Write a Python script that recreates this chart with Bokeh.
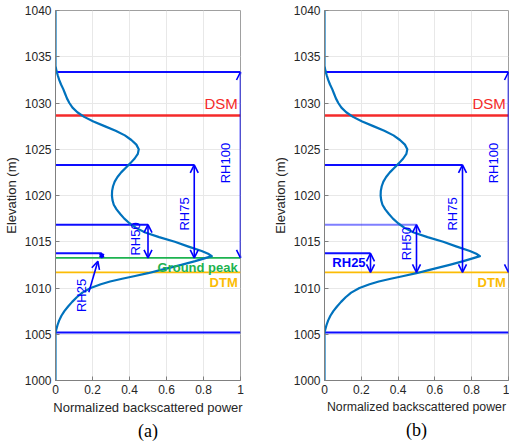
import math
from bokeh.plotting import figure
from bokeh.layouts import row
from bokeh.models import Arrow, OpenHead, Title, FixedTicker, Label
from bokeh.embed import file_html
from bokeh.resources import INLINE

# ---- data ----
elevation = [1040, 1036, 1034.0, 1033.5, 1033.0, 1032.5, 1032.0, 1031.5, 1031.0, 1030.5,
             1030.0, 1029.5, 1029.0, 1028.5, 1028.0, 1027.5, 1027.0, 1026.5, 1026.0, 1025.5,
             1025.0, 1024.5, 1024.0, 1023.5, 1023.0, 1022.5, 1022.0, 1021.5, 1021.0, 1020.5,
             1020.0, 1019.5, 1019.0, 1018.5, 1018.0, 1017.5, 1017.0, 1016.5, 1016.0, 1015.5,
             1015.0, 1014.5, 1014.0, 1013.7, 1013.45, 1013.2, 1012.9, 1012.5, 1012.2, 1011.9,
             1011.6, 1011.3, 1011.0, 1010.7, 1010.4, 1010.0, 1009.5, 1009.0, 1008.5, 1008.0,
             1007.5, 1007.0, 1006.5, 1006.0, 1005.5, 1005.2, 1000]
power = [0, 0, 0.0, 0.005, 0.012, 0.02, 0.03, 0.042, 0.052, 0.062,
         0.075, 0.092, 0.118, 0.155, 0.205, 0.265, 0.325, 0.375, 0.41, 0.437,
         0.45, 0.445, 0.428, 0.405, 0.38, 0.355, 0.335, 0.32, 0.311, 0.306,
         0.305, 0.308, 0.315, 0.33, 0.35, 0.372, 0.40, 0.435, 0.485, 0.56,
         0.645, 0.715, 0.79, 0.825, 0.845, 0.805, 0.755, 0.68, 0.62, 0.56,
         0.50, 0.43, 0.36, 0.295, 0.245, 0.19, 0.145, 0.115, 0.09, 0.068,
         0.048, 0.032, 0.02, 0.011, 0.004, 0.0, 0]

rh_names = ["RH25", "RH50", "RH75", "RH100"]
rh_fraction = [0.25, 0.50, 0.75, 1.00]
rh_level = [1013.75, 1016.85, 1023.3, 1033.35]
signal_start = 1005.2
dsm = 1028.65
ground_peak = 1013.25
dtm = 1011.68

x_ticks = [0, 0.2, 0.4, 0.6, 0.8, 1]
x_tick_labels = ["0", "0.2", "0.4", "0.6", "0.8", "1"]
y_ticks = [1000, 1005, 1010, 1015, 1020, 1025, 1030, 1035, 1040]
y_tick_labels = [str(v) for v in y_ticks]

BLUE = "#0000ff"
CURVE = "#0072BD"
RED = "#f52a2a"
GREEN = "#1db350"
ORANGE = "#fbbc05"
FONT = "Liberation Sans"


def make_panel(caption, ref, width, left, right, xlabel_size):
    p = figure(width=width, height=444, x_range=(0, 1), y_range=(1000, 1040),
               output_backend="svg", toolbar_location=None,
               min_border_left=left, min_border_right=right,
               min_border_top=10, min_border_bottom=64)
    p.xaxis.ticker = FixedTicker(ticks=x_ticks)
    p.xaxis.major_label_overrides = {t: l for t, l in zip(x_ticks, x_tick_labels)}
    p.yaxis.ticker = FixedTicker(ticks=y_ticks)
    p.yaxis.major_label_overrides = {t: l for t, l in zip(y_ticks, y_tick_labels)}
    p.xaxis.axis_label = "Normalized backscattered power"
    p.yaxis.axis_label = "Elevation (m)"
    for ax in (p.xaxis, p.yaxis):
        ax.axis_label_text_font = FONT
        ax.axis_label_text_font_size = "13px"
        ax.axis_label_text_font_style = "normal"
        ax.axis_label_text_color = "#262626"
        ax.major_label_text_font = FONT
        ax.major_label_text_font_size = "12px"
        ax.major_label_text_color = "#262626"
        ax.axis_line_color = "#808080"
        ax.major_tick_line_color = "#808080"
        ax.major_tick_in = 4
        ax.major_tick_out = 0
        ax.minor_tick_line_color = None
        ax.major_label_standoff = 4
        ax.axis_label_standoff = 3
    p.xaxis.axis_label_text_font_size = xlabel_size
    p.outline_line_color = "#a0a0a0"
    p.grid.grid_line_color = "#e8e8e8"
    p.grid.grid_line_width = 1
    p.background_fill_color = "white"

    # horizontal level lines
    xs0, xs1, ys, alphas = [], [], [], []
    for i, (f, lv) in enumerate(zip(rh_fraction, rh_level)):
        xs0.append(0); xs1.append(f); ys.append(lv)
        alphas.append(0.5 if (ref == dtm and rh_names[i] == "RH50") else 0.95)
    xs0.append(0); xs1.append(1); ys.append(signal_start); alphas.append(0.95)
    p.segment(x0=xs0, y0=ys, x1=xs1, y1=ys, line_color=BLUE, line_alpha=alphas, line_width=2)

    # DSM, ground peak, DTM
    p.segment(x0=[0], y0=[dsm], x1=[1], y1=[dsm], line_color=RED, line_width=2.5)
    if ref == ground_peak:
        p.segment(x0=[0], y0=[ground_peak], x1=[1], y1=[ground_peak],
                  line_color=GREEN, line_width=1.8)
    p.segment(x0=[0], y0=[dtm], x1=[1], y1=[dtm], line_color=ORANGE, line_width=1.8)

    # waveform
    p.line(power, elevation, line_color=CURVE, line_width=2.2, line_join="round")

    # arrows for RH metrics
    for name, f, lv in zip(rh_names, rh_fraction, rh_level):
        hs = 4 if (ref == ground_peak and name == "RH25") else 8
        p.add_layout(Arrow(x_start=f, y_start=ref, x_end=f, y_end=lv,
                           line_color=BLUE, line_width=1.6,
                           start=OpenHead(size=hs, line_color=BLUE, line_width=1.6),
                           end=OpenHead(size=hs, line_color=BLUE, line_width=1.6)))

    def lab(txt, x, y, color, size, angle=0.0, align="center", baseline="middle", bold=False):
        p.add_layout(Label(x=x, y=y, text=txt, angle=angle, text_align=align,
                           text_baseline=baseline, text_color=color,
                           text_font=FONT, text_font_size=size,
                           text_font_style="bold" if bold else "normal"))

    lab("DSM", 0.985, dsm + 0.35, RED, "15px", align="right", baseline="bottom")
    lab("DTM", 0.985, dtm - 0.25, ORANGE, "13px", align="right", baseline="top", bold=True)
    lab("RH100", 0.92, 1023.5, BLUE, "13px", angle=math.pi / 2)
    lab("RH75", 0.695, 1018.0, BLUE, "13px", angle=math.pi / 2)
    if ref == ground_peak:
        lab("Ground peak", 0.985, ground_peak - 0.25, GREEN, "13px", align="right",
            baseline="top", bold=True)
        lab("RH50", 0.432, 1015.3, BLUE, "13px", angle=math.pi / 2)
        lab("RH25", 0.14, 1009.2, BLUE, "13px", angle=math.pi / 2)
        p.add_layout(Arrow(x_start=0.18, y_start=1009.55, x_end=0.229, y_end=1012.9,
                           line_color=BLUE, line_width=1.6,
                           end=OpenHead(size=8, line_color=BLUE, line_width=1.6)))
    else:
        lab("RH50", 0.448, 1014.8, BLUE, "13px", angle=math.pi / 2)
        lab("RH25", 0.133, 1012.75, BLUE, "13px", bold=True)

    p.add_layout(Title(text=caption, align="center", text_font="Liberation Serif",
                       text_font_size="18px", text_font_style="normal",
                       text_color="black", standoff=2), "below")
    return p


pa = make_panel("(a)", ground_peak, 260, 55, 20, "13px")
pb = make_panel("(b)", dtm, 249, 64, 1, "12.3px")
layout = row(pa, pb, spacing=0)

open("out.html", "w").write(file_html(layout, INLINE))
